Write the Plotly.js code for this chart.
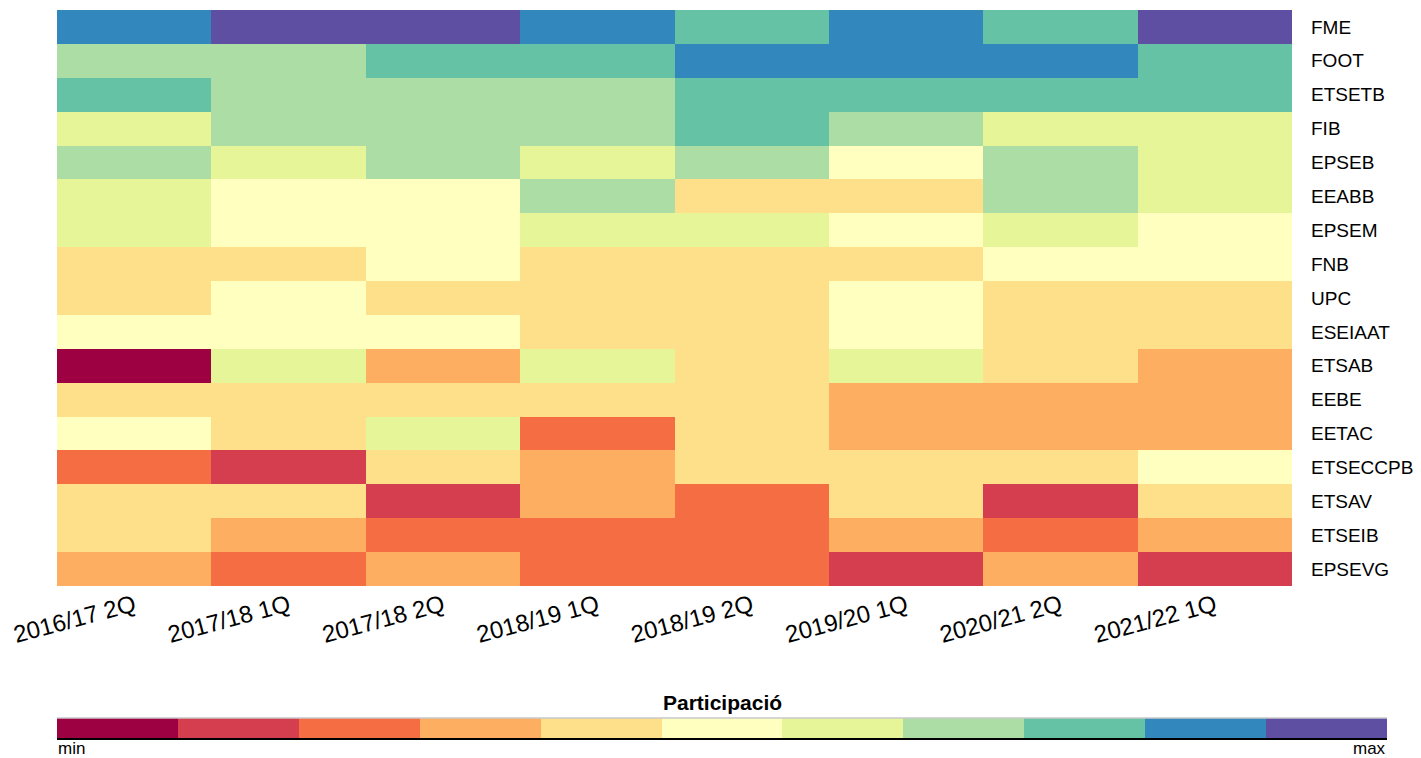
<!DOCTYPE html>
<html>
<head>
<meta charset="utf-8">
<script src="https://cdn.plot.ly/plotly-3.0.1.min.js"></script>
<style>html,body{margin:0;padding:0;background:#fff;}#chart{width:1421px;height:758px;}</style>
</head>
<body>
<div id="chart"></div>
<script>
const periods = ["2016/17 2Q","2017/18 1Q","2017/18 2Q","2018/19 1Q","2018/19 2Q","2019/20 1Q","2020/21 2Q","2021/22 1Q"];
const centres = ["FME","FOOT","ETSETB","FIB","EPSEB","EEABB","EPSEM","FNB","UPC","ESEIAAT","ETSAB","EEBE","EETAC","ETSECCPB","ETSAV","ETSEIB","EPSEVG"];
// participation level (0 = min ... 10 = max), one row per centre
const FME      = [9,10,10,9,8,9,8,10];
const FOOT     = [7,7,8,8,9,9,9,8];
const ETSETB   = [8,7,7,7,8,8,8,8];
const FIB      = [6,7,7,7,8,7,6,6];
const EPSEB    = [7,6,7,6,7,5,7,6];
const EEABB    = [6,5,5,7,4,4,7,6];
const EPSEM    = [6,5,5,6,6,5,6,5];
const FNB      = [4,4,5,4,4,4,5,5];
const UPC      = [4,5,4,4,4,5,4,4];
const ESEIAAT  = [5,5,5,4,4,5,4,4];
const ETSAB    = [0,6,3,6,4,6,4,3];
const EEBE     = [4,4,4,4,4,3,3,3];
const EETAC    = [5,4,6,2,4,3,3,3];
const ETSECCPB = [2,1,4,3,4,4,4,5];
const ETSAV    = [4,4,1,3,2,4,1,4];
const ETSEIB   = [4,3,2,2,2,3,2,3];
const EPSEVG   = [3,2,3,2,2,1,3,1];
const levels = [0,1,2,3,4,5,6,7,8,9,10];
const palette = ["#9e0142","#d53e4f","#f46d43","#fdae61","#fee08b","#ffffbf","#e6f598","#abdda4","#66c2a5","#3288bd","#5e4fa2"];

const zMain = [FME,FOOT,ETSETB,FIB,EPSEB,EEABB,EPSEM,FNB,UPC,ESEIAAT,ETSAB,EEBE,EETAC,ETSECCPB,ETSAV,ETSEIB,EPSEVG];

const n = palette.length;
const colorscale = [];
palette.forEach((c,i)=>{ colorscale.push([i/n, c]); colorscale.push([(i+1)/n, c]); });

const font = "Liberation Sans, Arial, sans-serif";
const traces = [
  {type:'heatmap', x:periods, y:centres, z:zMain, zmin:-0.5, zmax:10.5, colorscale:colorscale, showscale:false, xaxis:'x', yaxis:'y', hoverinfo:'x+y+z'},
  {type:'heatmap', x:levels, y:['scale'], z:[levels], zmin:-0.5, zmax:10.5, colorscale:colorscale, showscale:false, xaxis:'x2', yaxis:'y2', hoverinfo:'skip'}
];
const H = 728;
const layout = {
  width:1421, height:758,
  margin:{l:57, r:34, t:10, b:20},
  paper_bgcolor:'#fff', plot_bgcolor:'#fff',
  font:{family:font, color:'#000'},
  xaxis:{domain:[0,1235/1330], anchor:'y', tickangle:-15, tickfont:{size:24, color:'#000'}, showgrid:false, zeroline:false, ticks:'', showline:false},
  yaxis:{domain:[152/H,1], anchor:'x', side:'right', autorange:'reversed', tickfont:{size:19, color:'#000'}, showgrid:false, zeroline:false, ticks:'', ticklabelstandoff:18},
  xaxis2:{domain:[0,1], anchor:'y2', range:[-0.5,10.5], showticklabels:false, showgrid:false, zeroline:false, showline:true, linecolor:'#000', linewidth:1.5, ticks:''},
  yaxis2:{domain:[0,20/H], anchor:'x2', showticklabels:false, showgrid:false, zeroline:false, ticks:''},
  shapes:[{type:'line', xref:'x2 domain', yref:'y2 domain', x0:0, x1:1, y0:1, y1:1, line:{color:'#c8c8c8', width:1.5}}],
  annotations:[
    {text:'<b>Participació</b>', xref:'paper', yref:'paper', x:0.5, y:36/H, xanchor:'center', yanchor:'middle', showarrow:false, font:{size:21, color:'#000'}},
    {text:'min', xref:'paper', yref:'paper', x:0, y:-10/H, xanchor:'left', yanchor:'middle', showarrow:false, borderpad:0, font:{size:17, color:'#000'}},
    {text:'max', xref:'paper', yref:'paper', x:1, y:-10/H, xanchor:'right', yanchor:'middle', showarrow:false, borderpad:0, font:{size:17, color:'#000'}}
  ]
};
Plotly.newPlot('chart', traces, layout, {displayModeBar:false, staticPlot:true});
</script>
</body>
</html>
